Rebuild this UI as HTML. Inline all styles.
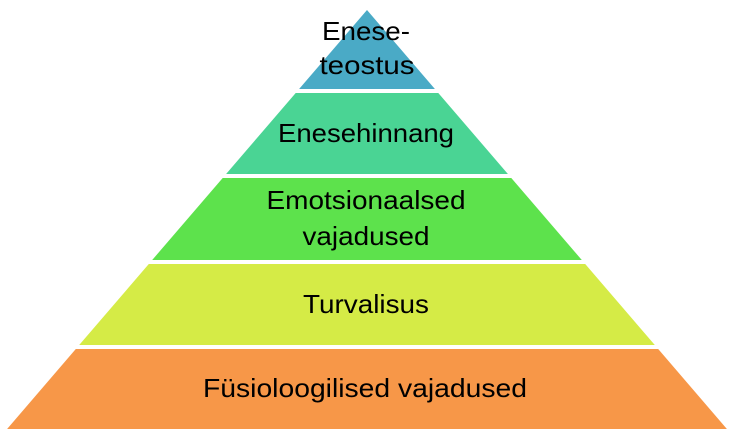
<!DOCTYPE html>
<html><head><meta charset="utf-8"><style>html,body{margin:0;padding:0;background:#fff;width:734px;height:434px;overflow:hidden}</style></head>
<body>
<svg width="734" height="434" viewBox="0 0 734 434" xmlns="http://www.w3.org/2000/svg" font-family="'Liberation Sans', sans-serif" font-size="26" fill="#000">
<polygon points="367,10 434.9,89 299.1,89" fill="#4aaac6"/>
<polygon points="295.7,93 438.3,93 507.9,174 226.1,174" fill="#4ad494"/>
<polygon points="222.7,178 511.3,178 581.8,260 152.2,260" fill="#5de24c"/>
<polygon points="148.8,264 585.2,264 654.8,345 79.2,345" fill="#d5eb46"/>
<polygon points="75.8,349 658.2,349 726.9,429 7.1,429" fill="#f79748"/>
<text x="366" y="40" text-anchor="middle" textLength="88" lengthAdjust="spacingAndGlyphs">Enese-</text>
<text x="367" y="74" text-anchor="middle" textLength="95" lengthAdjust="spacingAndGlyphs">teostus</text>
<text x="366" y="142" text-anchor="middle" textLength="176" lengthAdjust="spacingAndGlyphs">Enesehinnang</text>
<text x="366" y="209" text-anchor="middle" textLength="199" lengthAdjust="spacingAndGlyphs">Emotsionaalsed</text>
<text x="366" y="245" text-anchor="middle" textLength="127" lengthAdjust="spacingAndGlyphs">vajadused</text>
<text x="366" y="313" text-anchor="middle" textLength="126" lengthAdjust="spacingAndGlyphs">Turvalisus</text>
<text x="365" y="397" text-anchor="middle" textLength="324" lengthAdjust="spacingAndGlyphs">Füsioloogilised vajadused</text>
</svg>
</body></html>
